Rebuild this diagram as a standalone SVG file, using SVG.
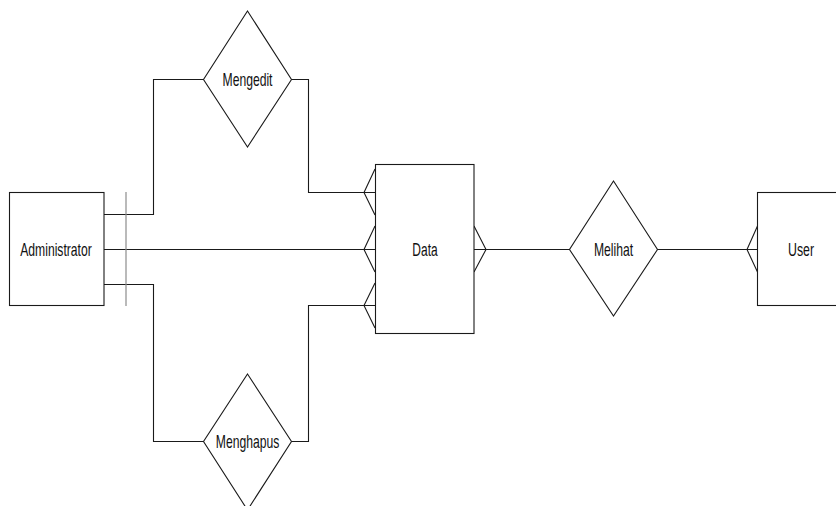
<svg xmlns="http://www.w3.org/2000/svg" width="836" height="506" viewBox="0 0 836 506">
  <style>
    .shape { fill: #ffffff; stroke: #1a1a1a; stroke-width: 1.1; }
    .wire { fill: none; stroke: #1a1a1a; stroke-width: 1.1; }
    .tick { fill: none; stroke: #8c8c8c; stroke-width: 1.2; }
    .label { font-family: "Liberation Sans", Arial, sans-serif; font-size: 19px; fill: #111111; text-anchor: middle; }
  </style>
  <rect width="836" height="506" fill="#ffffff"/>

  <g id="connectors">
    <!-- Administrator to Mengedit -->
    <polyline class="wire" points="104,214.5 153.5,214.5 153.5,79.5 203.5,79.5"/>
    <!-- Mengedit to Data -->
    <polyline class="wire" points="291.5,79.5 308.5,79.5 308.5,192.5 375,192.5"/>
    <!-- Administrator to Data -->
    <line class="wire" x1="104" y1="249.5" x2="375" y2="249.5"/>
    <!-- Administrator to Menghapus -->
    <polyline class="wire" points="104,284.5 153.5,284.5 153.5,441.5 203.5,441.5"/>
    <!-- Menghapus to Data -->
    <polyline class="wire" points="291.5,441.5 308.5,441.5 308.5,305.5 375,305.5"/>
    <!-- Data to Melihat -->
    <line class="wire" x1="474" y1="249.5" x2="569.5" y2="249.5"/>
    <!-- Melihat to User -->
    <line class="wire" x1="657.5" y1="249.5" x2="757.5" y2="249.5"/>

    <!-- one-side bar at Administrator -->
    <line class="tick" x1="126" y1="192" x2="126" y2="306"/>

    <!-- many-side crow's feet -->
    <polyline class="wire" points="375,169 364,192.5 375,215"/>
    <polyline class="wire" points="375,226 364,249.5 375,272"/>
    <polyline class="wire" points="375,283 364,305.5 375,328"/>
    <polyline class="wire" points="474,226 486,249.5 474,272"/>
    <polyline class="wire" points="757.5,226 747,249.5 757.5,272"/>
  </g>

  <g id="administrator">
    <rect class="shape" x="9.5" y="192.5" width="94.5" height="113"/>
    <text class="label" transform="translate(56,255.5) scale(0.64,1)">Administrator</text>
  </g>

  <g id="data">
    <rect class="shape" x="375.5" y="164.5" width="98.5" height="169"/>
    <text class="label" transform="translate(425,255.5) scale(0.63,1)">Data</text>
  </g>

  <g id="user">
    <rect class="shape" x="757.5" y="192.5" width="90" height="113"/>
    <text class="label" transform="translate(801,255.5) scale(0.65,1)">User</text>
  </g>

  <g id="mengedit">
    <polygon class="shape" points="247.5,11 291.5,79.5 247.5,147 203.5,79.5"/>
    <text class="label" transform="translate(247.5,86) scale(0.64,1)">Mengedit</text>
  </g>

  <g id="menghapus">
    <polygon class="shape" points="247.5,374 291.5,441.5 247.5,510 203.5,441.5"/>
    <text class="label" transform="translate(247.5,448) scale(0.64,1)">Menghapus</text>
  </g>

  <g id="melihat">
    <polygon class="shape" points="613.5,181 657.5,249.5 613.5,316 569.5,249.5"/>
    <text class="label" transform="translate(613.5,256) scale(0.64,1)">Melihat</text>
  </g>
</svg>
